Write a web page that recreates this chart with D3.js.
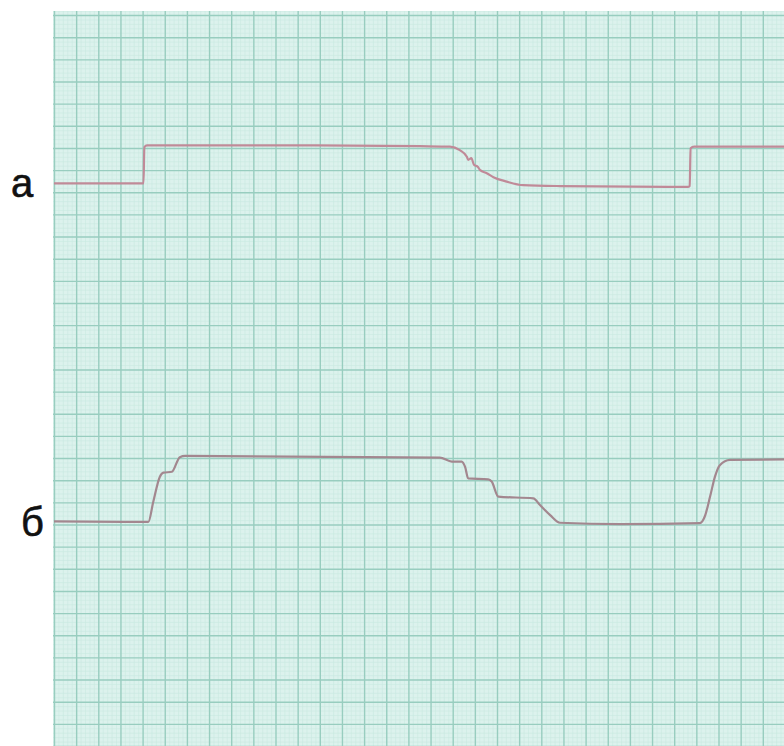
<!DOCTYPE html>
<html>
<head>
<meta charset="utf-8">
<script src="https://cdn.jsdelivr.net/npm/d3@7"></script>
<style>
  body { margin: 0; background: #fff; }
  #chart { width: 784px; height: 746px; }
</style>
</head>
<body>
<div id="chart"></div>
<script>
// traces, in mm of chart paper (x to the right, y up from the bottom edge)
var traceAx = [0, 20.2, 20.4, 21.0, 55.5, 82.6, 89.4, 91.6, 93.2, 93.5, 94.2, 94.8, 95.7, 96.2, 97.7, 99.2, 102.2, 105.9, 114.2, 143.1, 143.5, 143.7, 144.5, 164.8];
var traceAy = [127.0, 127.0, 135.2, 135.6, 135.6, 135.4, 135.3, 134.5, 133.0, 132.3, 132.7, 131.2, 130.7, 130.0, 129.3, 128.4, 127.4, 126.6, 126.4, 126.2, 126.4, 134.9, 135.3, 135.3];

var traceBx = [0, 20.8, 21.3, 22.4, 23.9, 24.7, 26.6, 28.4, 29.6, 87.1, 89.8, 92.0, 92.8, 93.5, 98.0, 98.8, 100.3, 108.2, 109.7, 112.0, 114.2, 127.8, 145.8, 146.9, 148.1, 149.2, 150.3, 152.6, 164.8];
var traceBy = [50.7, 50.6, 50.6, 55.1, 60.8, 61.7, 61.9, 65.2, 65.5, 65.1, 64.2, 64.2, 63.0, 60.4, 60.2, 59.7, 56.3, 55.9, 54.4, 52.1, 50.4, 50.1, 50.3, 51.8, 56.3, 60.8, 63.4, 64.6, 64.7];

var labels = ["а", "б"];
var labelY = [127.0, 50.6];

// paper area
var paper = {left: 53, top: 11, right: 784, bottom: 746};

var svg = d3.select("#chart")
  .append("svg")
    .attr("width", 784)
    .attr("height", 746);

// scales: one mm is ~4.43 px
var x = d3.scaleLinear().domain([0, 165]).range([54, 54 + 165 * 4.43]);
var y = d3.scaleLinear().domain([0, 166]).range([746, 746 - 166 * 4.43]);

svg.append("rect")
  .attr("x", paper.left)
  .attr("y", paper.top)
  .attr("width", paper.right - paper.left)
  .attr("height", paper.bottom - paper.top)
  .attr("fill", "#dcf2ed");

svg.append("clipPath").attr("id", "paper")
  .append("rect")
    .attr("x", paper.left)
    .attr("y", paper.top)
    .attr("width", paper.right - paper.left)
    .attr("height", paper.bottom - paper.top);

var grid = svg.append("g").attr("clip-path", "url(#paper)");

function gridLines(vals, color, w) {
  grid.append("g")
    .attr("transform", "translate(0," + paper.bottom + ")")
    .call(d3.axisBottom(x).tickValues(vals).tickSize(-(paper.bottom - paper.top)).tickFormat(""))
    .call(g => g.select(".domain").remove())
    .selectAll("line").attr("stroke", color).attr("stroke-width", w);
  grid.append("g")
    .attr("transform", "translate(" + paper.left + ",0)")
    .call(d3.axisLeft(y).tickValues(vals).tickSize(-(paper.right - paper.left)).tickFormat(""))
    .call(g => g.select(".domain").remove())
    .selectAll("line").attr("stroke", color).attr("stroke-width", w);
}

// fine 1 mm lines, then 5 mm lines
var fine = d3.range(0, 167, 1);
gridLines(fine.filter(d => d % 5), "#c9e9e1", 0.6);
gridLines(d3.range(0, 167, 5), "#98cdbf", 1.4);

// the two traces
var line = d3.line()
  .x(function(d) { return x(d[0]); })
  .y(function(d) { return y(d[1]); })
  .curve(d3.curveMonotoneX);

var traces = [
  {pts: d3.zip(traceAx, traceAy), color: "#c08a98"},
  {pts: d3.zip(traceBx, traceBy), color: "#a3878f"}
];

grid.selectAll(".trace")
  .data(traces)
  .enter().append("path")
    .attr("class", "trace")
    .attr("fill", "none")
    .attr("stroke", function(d) { return d.color; })
    .attr("stroke-width", 2.2)
    .attr("stroke-linejoin", "round")
    .attr("d", function(d) { return line(d.pts); });

// labels on the left margin
svg.selectAll(".lbl")
  .data(labels)
  .enter().append("text")
    .attr("class", "lbl")
    .attr("x", function(d, i) { return i === 0 ? 11 : 21; })
    .attr("y", function(d, i) { return y(labelY[i]) + 14; })
    .attr("font-family", "Liberation Sans, Arial, sans-serif")
    .attr("font-size", 40)
    .attr("fill", "#111")
    .attr("stroke", "#111")
    .attr("stroke-width", 0.6)
    .text(function(d) { return d; });
</script>
</body>
</html>
